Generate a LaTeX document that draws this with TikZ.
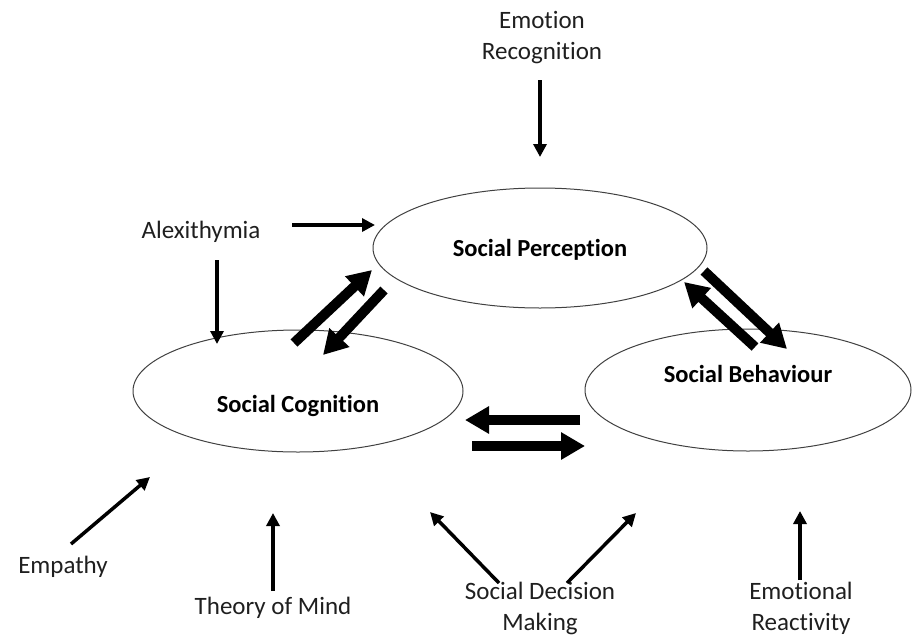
\documentclass[tikz,border=0pt]{standalone}
\usepackage{fontspec}
\setmainfont{Carlito}[Ligatures={NoCommon}]
\usetikzlibrary{arrows.meta,shapes.geometric}
\tikzset{
  oval/.style={draw=black!75, line width=1pt, ellipse, inner sep=0pt},
  lbl/.style={font=\fontsize{25}{31}\selectfont, text=black!88, align=center, inner sep=0pt},
  blbl/.style={font=\fontsize{24.5}{31}\selectfont\bfseries, inner sep=0pt},
  thin/.style={line width=3.5pt, -{Triangle[length=13pt,width=13pt]}},
  thick/.style={line width=10pt, -{Triangle[length=24pt,width=26pt]}}
}
\begin{document}
\begin{tikzpicture}[x=1pt,y=-1pt]
\useasboundingbox (0,0) rectangle (912,637);
% ellipses
\node[oval, minimum width=334pt, minimum height=120pt] (sp) at (540,248) {};
\node[oval, minimum width=330pt, minimum height=122pt] (sc) at (298,391) {};
\node[oval, minimum width=326pt, minimum height=122pt] (sb) at (748,390) {};
\node[blbl] (spl) at (540,250) {Social Perception};
\node[blbl] (scl) at (298,406) {Social Cognition};
\node[blbl] (sbl) at (748,374) {Social Behaviour};
% outer labels
\node[lbl] (er) at (542,38) {Emotion\\Recognition};
\node[lbl] (alx) at (201,232) {Alexithymia};
\node[lbl] (emp) at (63,567) {Empathy};
\node[lbl] (tom) at (273,608) {Theory of Mind};
\node[lbl] (sdm) at (540,608) {Social Decision\\Making};
\node[lbl] (erc) at (801,608) {Emotional\\Reactivity};
% arrow coordinates
\coordinate (er1) at (540,80); \coordinate (er2) at (540,157);
\coordinate (al1) at (292,225); \coordinate (al2) at (375,225);
\coordinate (ad1) at (217,260); \coordinate (ad2) at (217,344);
\coordinate (em1) at (71,544); \coordinate (em2) at (150,477);
\coordinate (tm1) at (273,591); \coordinate (tm2) at (273,513);
\coordinate (sl1) at (499,583); \coordinate (sl2) at (430,512);
\coordinate (sr1) at (567,583); \coordinate (sr2) at (636,513);
\coordinate (rc1) at (800,580); \coordinate (rc2) at (800,511);
\draw[thin] (er1) -- (er2);
\draw[thin] (al1) -- (al2);
\draw[thin] (ad1) -- (ad2);
\draw[thin] (em1) -- (em2);
\draw[thin] (tm1) -- (tm2);
\draw[thin] (sl1) -- (sl2);
\draw[thin] (sr1) -- (sr2);
\draw[thin] (rc1) -- (rc2);
% thick arrows
\coordinate (cu1) at (294,343); \coordinate (cu2) at (372,270);
\coordinate (cd1) at (384,290); \coordinate (cd2) at (323,355);
\coordinate (pb1) at (704,271); \coordinate (pb2) at (787,349);
\coordinate (bp1) at (755,347); \coordinate (bp2) at (684,282);
\coordinate (bc1) at (580,420); \coordinate (bc2) at (465,420);
\coordinate (cb1) at (472,446); \coordinate (cb2) at (585,446);
\draw[thick] (cu1) -- (cu2);
\draw[thick] (cd1) -- (cd2);
\draw[thick] (pb1) -- (pb2);
\draw[thick] (bp1) -- (bp2);
\draw[thick] (bc1) -- (bc2);
\draw[thick] (cb1) -- (cb2);
\end{tikzpicture}
\end{document}
